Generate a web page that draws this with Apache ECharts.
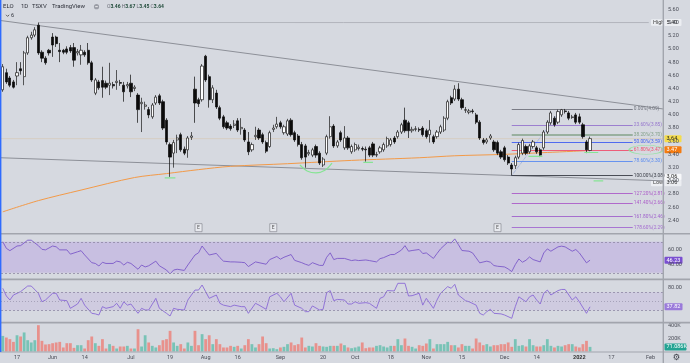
<!DOCTYPE html>
<html><head><meta charset="utf-8">
<script src="https://cdn.jsdelivr.net/npm/echarts@6/dist/echarts.min.js"></script>
<style>html,body{margin:0;padding:0;background:#d6d9e0;overflow:hidden}#c{width:690px;height:363px}</style>
</head><body><div id="c"></div>
<script>
// bar index 0 = 17 May 2021; first bar index -4 (11 May 2021), last bar 161 (7 Jan 2022)
const firstIndex = -4;
const lastSlot = 181;
const opens = [4.38,4.64,4.56,4.50,4.59,4.70,4.58,4.94,5.17,5.21,
5.36,4.95,4.86,4.98,5.18,5.18,4.98,4.98,5.00,5.02,
5.02,4.94,4.91,4.95,4.98,4.79,4.33,4.50,4.52,4.48,
4.45,4.46,4.49,4.49,4.45,4.44,4.48,4.40,4.30,4.17,
4.13,4.08,3.97,4.18,4.29,4.20,3.92,3.55,3.42,3.62,
3.70,3.48,3.47,3.66,4.39,4.23,4.23,4.89,4.58,4.23,
4.33,4.11,3.97,3.88,3.83,3.84,3.91,3.79,3.77,3.59,
3.47,3.67,3.77,3.70,3.58,3.52,3.78,3.82,3.88,3.73,
3.71,3.92,3.73,3.68,3.55,3.53,3.41,3.39,3.52,3.42,
3.24,3.42,3.67,3.83,3.53,3.73,3.50,3.65,3.44,3.47,
3.49,3.49,3.48,3.50,3.56,3.39,3.44,3.47,3.53,3.55,
3.65,3.67,3.74,3.92,3.88,3.76,3.78,3.78,3.80,3.76,
3.70,3.67,3.67,3.74,3.77,3.95,4.26,4.24,4.39,4.23,
4.07,4.04,4.06,4.00,3.89,3.62,3.59,3.65,3.59,3.58,
3.44,3.50,3.36,3.24,3.23,3.36,3.42,3.52,3.44,3.52,
3.50,3.47,3.50,3.74,3.88,3.95,3.89,4.00,4.06,4.03,
3.96,4.00,3.97,3.85,3.59,3.46];
const highs = [4.77,4.70,4.59,4.53,4.80,4.80,4.97,5.20,5.26,5.33,
5.40,4.98,4.89,5.00,5.24,5.20,5.09,5.00,5.04,5.06,
5.09,5.00,5.06,4.98,5.09,4.82,4.56,4.53,4.73,4.52,
4.79,4.50,4.68,4.53,4.50,4.50,4.61,4.45,4.33,4.26,
4.20,4.12,4.18,4.30,4.32,4.23,3.95,3.58,3.62,3.70,
3.73,3.52,3.68,3.74,4.58,4.26,4.77,4.91,4.61,4.45,
4.38,4.14,4.00,3.91,3.86,3.92,3.95,3.95,3.80,3.74,
3.58,3.82,3.80,3.73,3.61,3.76,3.85,3.97,3.91,3.85,
3.94,3.95,3.76,3.71,3.59,3.56,3.47,3.50,3.55,3.45,
3.36,3.70,3.98,3.86,3.62,3.76,3.83,3.68,3.55,3.58,
3.55,3.52,3.52,3.53,3.59,3.44,3.53,3.58,3.67,3.65,
3.68,3.77,3.88,4.11,3.91,3.82,3.83,3.81,3.83,3.79,
3.92,3.70,3.77,3.85,3.98,4.23,4.29,4.45,4.48,4.26,
4.12,4.09,4.09,4.03,3.92,3.65,3.65,3.71,3.62,3.61,
3.47,3.53,3.39,3.27,3.38,3.58,3.64,3.55,3.56,3.62,
3.53,3.50,3.77,3.92,4.06,3.98,4.08,4.09,4.09,4.06,
4.00,4.03,4.02,3.88,3.62,3.67];
const lows = [4.35,4.47,4.42,4.40,4.45,4.61,4.45,4.91,5.14,5.18,
4.91,4.80,4.76,4.90,4.88,5.03,4.80,4.92,4.92,4.94,
4.73,4.90,4.76,4.88,4.76,4.50,4.30,4.38,4.26,4.39,
4.30,4.40,4.38,4.44,4.20,4.40,4.27,4.36,3.88,3.74,
4.08,3.95,3.94,4.15,4.15,3.77,3.55,3.06,3.20,3.42,
3.44,3.39,3.35,3.62,3.88,4.12,4.20,4.50,4.11,4.18,
4.09,3.92,3.79,3.77,3.76,3.80,3.74,3.70,3.59,3.39,
3.44,3.62,3.62,3.56,3.42,3.50,3.74,3.79,3.79,3.70,
3.68,3.67,3.59,3.52,3.32,3.20,3.38,3.36,3.35,3.24,
3.21,3.39,3.64,3.50,3.50,3.59,3.47,3.47,3.41,3.44,
3.46,3.45,3.29,3.36,3.36,3.36,3.41,3.44,3.50,3.52,
3.56,3.64,3.71,3.73,3.65,3.73,3.75,3.74,3.67,3.64,
3.58,3.56,3.64,3.71,3.74,3.92,4.15,4.21,4.21,4.08,
4.03,4.01,4.02,3.86,3.62,3.55,3.56,3.62,3.44,3.39,
3.33,3.29,3.24,3.08,3.18,3.33,3.39,3.39,3.41,3.49,
3.41,3.36,3.47,3.71,3.85,3.82,3.86,3.97,4.02,3.92,
3.94,3.86,3.86,3.64,3.42,3.45];
const closes = [4.73,4.50,4.45,4.42,4.64,4.67,4.94,5.17,5.21,5.29,
4.94,4.86,4.79,4.94,5.06,5.08,4.96,4.95,4.95,4.97,
4.83,4.96,4.98,4.91,4.79,4.53,4.53,4.41,4.42,4.42,
4.48,4.44,4.51,4.48,4.35,4.46,4.35,4.42,4.08,4.19,
4.15,4.00,4.15,4.27,4.18,3.80,3.59,3.36,3.58,3.65,
3.47,3.42,3.65,3.68,4.18,4.17,4.74,4.53,4.23,4.41,
4.12,3.95,3.82,3.80,3.79,3.86,3.77,3.81,3.62,3.44,
3.55,3.69,3.65,3.59,3.45,3.73,3.80,3.86,3.82,3.82,
3.91,3.70,3.62,3.55,3.35,3.36,3.43,3.47,3.39,3.27,
3.33,3.67,3.82,3.53,3.59,3.62,3.65,3.50,3.52,3.55,
3.51,3.48,3.47,3.39,3.39,3.40,3.50,3.55,3.64,3.62,
3.59,3.74,3.85,3.76,3.76,3.78,3.79,3.77,3.70,3.67,
3.77,3.59,3.74,3.82,3.95,4.20,4.18,4.39,4.24,4.11,
4.08,4.06,4.05,3.89,3.65,3.58,3.62,3.68,3.47,3.42,
3.36,3.32,3.27,3.18,3.35,3.55,3.61,3.42,3.53,3.59,
3.44,3.39,3.74,3.89,4.03,3.85,4.05,4.08,4.05,3.95,
3.97,3.89,3.89,3.67,3.47,3.64];
// volume in thousands
const volumes = [240,215,190,148,250,231,293,174,139,174,
405,164,108,113,128,139,148,62,128,128,
56,97,97,46,174,231,128,87,190,46,
113,87,46,77,77,87,46,46,343,77,
250,139,87,62,97,174,190,318,139,87,
113,46,139,87,318,97,267,190,250,113,
190,113,62,62,87,72,87,46,97,190,
113,62,113,231,128,46,51,36,62,72,
113,139,97,113,215,62,87,77,128,87,
77,72,87,87,87,123,97,62,51,62,
77,139,51,62,62,87,97,77,62,87,
87,190,97,200,87,72,46,97,87,123,
190,46,113,113,113,148,97,97,62,113,
87,87,46,200,139,97,113,77,97,97,
113,113,139,72,190,87,97,77,190,97,
77,77,97,190,87,62,87,77,97,113,
113,77,62,113,164,71.086];
// 200-day moving average, read at sampled bars [bar, value]
const maPoints = [[-4,2.53],[6,2.70],[18,2.86],[33,3.05],[42,3.11],[51,3.17],[60,3.22],[76,3.26],[94,3.31],[113,3.35],[123,3.38],[136,3.40],[149,3.43],[161,3.46]];
// RSI pane, read at sampled bars
const rsiPoints = [[-4,70],[-3,61.5],[-2,58.5],[0,64.5],[1,65],[3,72],[4,72],[6,65],[7,60.2],[8,59.5],[10,64.5],[11,63.5],[12,59.5],[14,59.5],[15,54],[17,57],[18,58.5],[19,53],[21,43],[22,42],[23,38.7],[24,43.5],[25,42],[27,42],[28,45],[29,44],[30,40],[31,43.5],[32,42],[34,34.5],[35,40],[36,37.5],[37,39],[39,45],[40,39],[42,33.5],[43,28.4],[44,33.5],[45,34.5],[47,33],[48,40],[50,52.9],[51,55.7],[52,64.5],[53,58.5],[54,52.9],[56,55],[57,49.5],[58,45],[60,44],[61,44],[63,43.5],[64,43],[65,38],[67,44],[68,43],[70,41],[71,47],[73,51],[74,47.5],[75,50],[77,53.5],[78,46],[80,43],[81,41],[82,39.5],[83,43],[85,39.5],[86,39.5],[87,50],[88,55.7],[89,47],[90,48.5],[92,48.5],[94,45.7],[95,46.5],[96,45.7],[98,46.5],[99,45.7],[101,44],[102,48.2],[103,49.5],[105,53.5],[106,53.5],[108,59.2],[109,65],[110,57.8],[111,58.7],[113,60],[114,54.8],[115,55.6],[117,48.5],[118,54.8],[119,60.8],[121,69.4],[122,68.5],[123,73.7],[124,66.4],[125,58.7],[127,57.8],[128,55.6],[129,49.2],[130,42.8],[132,45],[133,43.6],[134,39.3],[135,38.4],[137,37.5],[138,34.9],[139,31.5],[140,40.5],[141,47.8],[142,43.6],[143,46.1],[144,50.4],[145,47],[147,44],[148,55.6],[149,60.8],[150,57.8],[152,63.4],[153,64.3],[154,63.4],[156,57.8],[157,60],[158,55.6],[160,42.8],[161,46.23]];
// second oscillator pane, read at sampled bars
const oscPoints = [[-4,78.9],[-3,61.8],[-2,52.9],[-1,64],[1,71.4],[3,84],[4,84],[6,67.8],[7,49],[8,52.9],[10,67.8],[11,67.8],[12,52.9],[14,51.4],[15,34.4],[17,44],[18,56.6],[19,41.5],[21,23.3],[22,22],[23,19.5],[24,38.1],[25,34.4],[27,38.1],[28,45.5],[29,34.4],[30,49],[31,41.5],[32,44],[34,23.3],[35,34.4],[36,30.7],[37,30.7],[39,56.6],[40,34.4],[42,23.3],[43,17.3],[44,34.4],[45,32.2],[47,30.7],[48,52.9],[50,75],[51,75],[52,86.2],[53,71.4],[54,56.6],[56,64],[57,45.5],[58,41.5],[60,38.1],[61,41.5],[63,38.1],[64,38.1],[65,23.3],[67,45.5],[68,41.5],[70,32.2],[71,60],[73,67.8],[74,60],[75,49],[77,67.8],[78,41.5],[80,34.4],[81,27],[82,27],[83,39.7],[85,30.7],[86,32.2],[87,69.3],[88,73.8],[89,51.4],[90,54.2],[92,52.9],[93,44],[94,44],[95,49],[96,45.5],[98,47],[99,45.5],[101,34.4],[102,56.6],[103,60],[104,73.8],[106,73],[107,90],[109,90],[110,61.8],[111,62.5],[113,67.8],[114,41.5],[115,56.6],[117,34.4],[118,52.9],[119,67.8],[121,82.6],[122,78.9],[123,87.7],[124,64],[126,51.4],[127,49],[129,41.5],[130,23.3],[131,19.5],[132,27],[133,32.2],[134,23.3],[136,22],[137,19.5],[139,12.2],[140,38.1],[141,60],[143,49],[144,60],[145,64],[146,52.9],[147,44],[148,67.8],[149,75],[150,64],[152,73.8],[153,76.3],[154,76.3],[156,52.9],[157,60],[158,49],[160,23.3],[161,37.82]];
// x-axis ticks
const tickIdx = [0,10,19,32,43,53,62,74,86,95,105,115,125,137,146,158,167,178];
const tickLabels = ['17','Jun','14','Jul','19','Aug','16','Sep','20','Oct','18','Nov','15','Dec','14','2022','17','Feb'];
// drawings
const upperTrend = [[-4.5,5.43],[181.5,4.09]];
const lowerTrend = [[-4.5,3.35],[181.5,3.00]];
const fibStart = 139, fibEnd = 173;
const fibPct = ['0.00%','23.60%','38.20%','50.00%','61.80%','78.60%','100.00%','127.20%','141.40%','161.80%','178.60%'];
const fibPrices = [4.09,3.85,3.70,3.59,3.47,3.30,3.08,2.81,2.66,2.46,2.29];
const fibColors = ['#6f727c','#9575cd','#84a28a','#3f5ef0','#ef4f6e','#5a8bf0','#3a3d46','#ab5cc8','#ab5cc8','#a062cc','#a36ad0'];
const fibLink = [[139,3.08],[153,4.09]];
const greenMarks = [
  [[41.5,3.045],[44.5,3.045]],
  [[79.5,3.24],[81.5,3.15],[84,3.12],[86.5,3.16],[88.5,3.27]],
  [[97.3,3.28],[100,3.28]],
  [[143.7,3.37],[147.6,3.37]],
  [[159.4,3.43],[163.3,3.43]],
  [[162,3.00],[164.7,3.00]]
];
const earnings = [51,72,135];
const highVal = 5.40, lowVal = 3.06;

const FF = 'Roboto, "Liberation Sans", sans-serif';
const chart = echarts.init(document.getElementById('c'));
const cats = [];
for (let k = firstIndex; k <= lastSlot; k++) cats.push(k);
const tickMap = {}; tickIdx.forEach((t,k)=>tickMap[t]=tickLabels[k]);
const candleData = opens.map((o,k)=>[o, closes[k], lows[k], highs[k]]);
const volData = volumes.map((v,k)=>({value:v, itemStyle:{color: closes[k]>=opens[k] ? '#78c3b6' : '#e8918c'}}));
const XMIN = firstIndex-0.5, XMAX = lastSlot+0.5;
const gridBase = {left:1, right:27, outerBoundsMode:'none', containLabel:false};
const axLabel = {color:'#4a4d57', fontSize:5.5, fontFamily:FF, margin:5};

function simpleLine(data, color, width, type, xi, extra) {
  return Object.assign({type:'line', xAxisIndex:xi===undefined?1:xi, yAxisIndex:0, data:data, symbol:'none', silent:true,
    lineStyle:{color:color, width:width, type:type||'solid'}, animation:false, z:3}, extra||{});
}

const series = [];
series.push(simpleLine([[XMIN,3.64],[XMAX,3.64]], 'rgba(214,170,95,0.22)', 1));
series.push(simpleLine([[6,highVal],[177.5,highVal]], '#a9acb4', 0.8));
series.push(simpleLine(upperTrend, '#8d9098', 1));
series.push(simpleLine(lowerTrend, '#8d9098', 1));
series.push(simpleLine(maPoints, '#f39a48', 1, 'solid', 1, {smooth:0.3, z:4}));
series.push({type:'line', xAxisIndex:1, yAxisIndex:0, data:[], silent:true, animation:false,
  markLine:{symbol:'none', silent:true, animation:false,
    data: fibPrices.map((p,k)=>[
      {coord:[fibStart,p], lineStyle:{color:fibColors[k], width:(k===2?1.6:0.9), type:'solid'},
       label:{show:true, position:'end', distance:1, formatter: fibPct[k]+'('+p.toFixed(2)+')', color:fibColors[k], fontSize:4.8, fontFamily:FF}},
      {coord:[fibEnd,p]}])}});
series.push(simpleLine(fibLink, '#7d95d8', 0.8, 'dotted'));
greenMarks.forEach(g=>series.push(simpleLine(g, '#86e494', 1.2, 'solid', 1, {smooth:0.4, z:6})));
series.push({type:'scatter', xAxisIndex:1, yAxisIndex:0, silent:true, animation:false, z:6,
  data:[[176.8, fibPrices[4]]], symbol:'circle', symbolSize:[34,9],
  itemStyle:{color:'rgba(0,0,0,0)', borderColor:'#86e494', borderWidth:1}});
series.push({type:'candlestick', xAxisIndex:0, yAxisIndex:0, data:candleData, barWidth:2.7, animation:false, z:5,
  itemStyle:{color:'#ffffff', color0:'#0b0b0b', borderColor:'#1a1a1a', borderColor0:'#0b0b0b', borderWidth:0.7}});
series.push({type:'scatter', xAxisIndex:1, yAxisIndex:0, silent:true, animation:false, z:6,
  data:earnings.map(e=>[e,2.29]), symbol:'rect', symbolSize:[7,8],
  itemStyle:{color:'#eceef2', borderColor:'#80838c', borderWidth:0.8},
  label:{show:true, position:'inside', formatter:'E', fontSize:5, color:'#333', fontFamily:FF}});
// RSI
series.push({type:'line', xAxisIndex:2, yAxisIndex:1, data:rsiPoints, symbol:'none', silent:true, animation:false,
  lineStyle:{color:'#7c59c8', width:0.9},
  markArea:{silent:true, itemStyle:{color:'#c8bfe1'}, data:[[{yAxis:30},{yAxis:70}]]},
  markLine:{symbol:'none', silent:true, label:{show:false}, lineStyle:{color:'#8e88a4', type:[2,2], width:0.8}, data:[{yAxis:70},{yAxis:30}]}});
// Oscillator
series.push({type:'line', xAxisIndex:3, yAxisIndex:2, data:oscPoints, symbol:'none', silent:true, animation:false,
  lineStyle:{color:'#8a6ad6', width:0.9},
  markArea:{silent:true, itemStyle:{color:'#cfcbe0'}, data:[[{yAxis:30},{yAxis:70}]]},
  markLine:{symbol:'none', silent:true, label:{show:false}, lineStyle:{color:'#8e88a4', type:[2,2], width:0.8},
    data:[{yAxis:70},{yAxis:30},{yAxis:50, lineStyle:{type:[1,2], color:'#9c97ae'}}]}});
// Volume
series.push({type:'bar', xAxisIndex:4, yAxisIndex:3, data:volData, barWidth:2.8, animation:false, silent:true});

const option = {
  backgroundColor:'#d6d9e0',
  animation:false,
  textStyle:{fontFamily:FF},
  grid:[
    Object.assign({top:0, height:233.6}, gridBase),
    Object.assign({top:234, height:46.5}, gridBase),
    Object.assign({top:278.8, height:45}, gridBase),
    Object.assign({top:323, height:28.5}, gridBase)
  ],
  xAxis:[
    {type:'category', gridIndex:0, data:cats, show:false, boundaryGap:true},
    {type:'value', gridIndex:0, min:XMIN, max:XMAX, show:false},
    {type:'value', gridIndex:1, min:XMIN, max:XMAX, show:false},
    {type:'value', gridIndex:2, min:XMIN, max:XMAX, show:false},
    {type:'category', gridIndex:3, data:cats, boundaryGap:true, axisLine:{show:false}, axisTick:{show:false},
     axisLabel:{color:'#4a4d57', fontSize:5.5, fontFamily:FF, margin:3,
       interval:(idx)=>tickMap[cats[idx]]!==undefined,
       formatter:(v,idx)=>{const t=tickMap[cats[idx]]; return t==='2022'?'{b|2022}':(t||'');},
       rich:{b:{fontWeight:'bold', fontSize:5.5, color:'#333'}}}}
  ],
  yAxis:[
    {type:'value', gridIndex:0, position:'right', min:2.2, max:5.742, interval:0.2, splitLine:{show:false}, axisLine:{show:false}, axisTick:{show:false},
     axisLabel:Object.assign({}, axLabel, {showMaxLabel:false, showMinLabel:false, formatter:v=>v.toFixed(2)})},
    {type:'value', gridIndex:1, position:'right', min:20, max:80, interval:20, splitLine:{show:false}, axisLine:{show:false}, axisTick:{show:false},
     axisLabel:Object.assign({}, axLabel, {showMaxLabel:false, showMinLabel:false, formatter:v=>v.toFixed(2)})},
    {type:'value', gridIndex:2, position:'right', min:0, max:100, interval:40, splitLine:{show:false}, axisLine:{show:false}, axisTick:{show:false},
     axisLabel:Object.assign({}, axLabel, {showMaxLabel:false, showMinLabel:false, formatter:v=>(v===80?'80.00':'')})},
    {type:'value', gridIndex:3, position:'right', min:0, max:438.5, interval:200, splitLine:{show:false}, axisLine:{show:false}, axisTick:{show:false},
     axisLabel:Object.assign({}, axLabel, {showMaxLabel:false, showMinLabel:false, formatter:v=>v+'K'})}
  ],
  series: series
};
chart.setOption(option);

// overlay graphics: separators, header, price tags
const yP = v => chart.convertToPixel({yAxisIndex:0}, v);
const yR = v => chart.convertToPixel({yAxisIndex:1}, v);
const yO = v => chart.convertToPixel({yAxisIndex:2}, v);
const yV = v => chart.convertToPixel({yAxisIndex:3}, v);
function tag(x, yc, w, h, bg, txt, col, bold) {
  return {type:'group', z:100, children:[
    {type:'rect', shape:{x:x, y:yc-h/2, width:w, height:h, r:1}, style:{fill:bg}},
    {type:'text', x:x+2, y:yc, style:{text:txt, fill:col, fontSize:5.5, fontFamily:FF, fontWeight:bold?'bold':'normal', verticalAlign:'middle', align:'left'}}
  ]};
}
const last = opens.length-1;
const sepCol = '#a2a5ad';
const g = [
  {type:'rect', z:90, shape:{x:0, y:233, width:690, height:1.6}, style:{fill:sepCol}},
  {type:'rect', z:90, shape:{x:0, y:278.6, width:690, height:1.6}, style:{fill:sepCol}},
  {type:'rect', z:90, shape:{x:0, y:321.8, width:690, height:1.6}, style:{fill:sepCol}},
  {type:'rect', z:90, shape:{x:0, y:351.6, width:690, height:1}, style:{fill:sepCol}},
  {type:'rect', z:90, shape:{x:662.6, y:0, width:1.4, height:363}, style:{fill:sepCol}},
  {type:'rect', z:91, shape:{x:0, y:0, width:1.4, height:352}, style:{fill:'#2f6bff'}},
  // header
  {type:'text', z:100, x:3, y:6.7, style:{text:'ELO', fill:'#2c2f38', fontSize:6, fontFamily:FF, verticalAlign:'middle'}},
  {type:'text', z:100, x:21, y:6.7, style:{text:'1D', fill:'#2c2f38', fontSize:6, fontFamily:FF, verticalAlign:'middle'}},
  {type:'text', z:100, x:32, y:6.7, style:{text:'TSXV', fill:'#2c2f38', fontSize:6, fontFamily:FF, verticalAlign:'middle'}},
  {type:'text', z:100, x:52, y:6.7, style:{text:'TradingView', fill:'#2c2f38', fontSize:6, fontFamily:FF, verticalAlign:'middle'}},
  {type:'circle', z:100, shape:{cx:96.5, cy:6.7, r:2.6}, style:{fill:'#9a9da6'}},
  {type:'rect', z:101, shape:{x:95.2, y:6.3, width:2.6, height:0.8}, style:{fill:'#ffffff'}},
  {type:'text', z:100, x:107, y:6.9, style:{
    text:'{l|O}{v|'+opens[last].toFixed(2)+'} {l|H}{v|'+highs[last].toFixed(2)+'} {l|L}{v|'+lows[last].toFixed(2)+'} {l|C}{v|'+closes[last].toFixed(2)+'}',
    fontSize:5, fontFamily:FF, verticalAlign:'middle',
    rich:{l:{fill:'#6a6d76', fontSize:5, fontFamily:FF}, v:{fill:'#1e4a38', fontSize:5, fontFamily:FF, fontWeight:'bold'}}}},
  {type:'polyline', z:100, shape:{points:[[6,14.8],[7.6,16.4],[9.2,14.8]]}, style:{stroke:'#444', lineWidth:0.8, fill:null}},
  {type:'text', z:100, x:11, y:15.8, style:{text:'6', fill:'#2c2f38', fontSize:5.5, fontFamily:FF, verticalAlign:'middle'}},
  // right-side tags
  tag(651, yP(highVal), 12, 6.5, '#eceef2', 'High', '#444'),
  tag(664.5, yP(highVal), 17, 7, '#eceef2', highVal.toFixed(2), '#333'),
  tag(664.5, yP(closes[last]), 17, 7, '#f4dc4c', closes[last].toFixed(2), '#222'),
  tag(664.5, yP(fibPrices[4]), 17, 7, '#f47b10', fibPrices[4].toFixed(2), '#ffffff'),
  tag(664.5, yP(lowVal), 17, 6.5, '#f7f8fa', lowVal.toFixed(2), '#222'),
  tag(651, yP(lowVal)+6, 12, 6.5, '#eceef2', 'Low', '#444'),
  tag(664.5, yP(lowVal)+6, 17, 6.5, '#eceef2', lowVal.toFixed(2), '#333'),
  tag(664.5, yR(rsiPoints[rsiPoints.length-1][1]), 18, 7, '#7a4fd0', rsiPoints[rsiPoints.length-1][1].toFixed(2), '#ffffff'),
  tag(664.5, yO(oscPoints[oscPoints.length-1][1]), 18, 7, '#9a7ada', oscPoints[oscPoints.length-1][1].toFixed(2), '#ffffff'),
  tag(664.5, yV(volumes[last]), 22, 7, '#22a392', volumes[last].toFixed(3)+'K', '#ffffff'),
  {type:'text', z:100, x:676.5, y:357.5, style:{text:'\u2699', fill:'#3a3d46', fontSize:8.5, fontFamily:'DejaVu Sans', align:'center', verticalAlign:'middle'}}
];
chart.setOption({graphic:g});
</script>
</body></html>
